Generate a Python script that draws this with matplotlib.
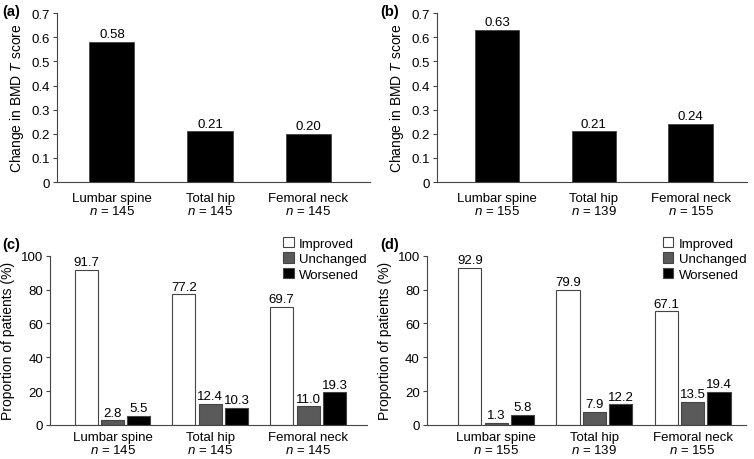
import matplotlib
matplotlib.use("Agg")
import matplotlib.pyplot as plt
import numpy as np
from matplotlib.patches import Patch

plt.rcParams['font.family'] = ['Liberation Sans', 'DejaVu Sans']
plt.rcParams['mathtext.fontset'] = 'custom'
plt.rcParams['mathtext.it'] = 'Liberation Sans:italic'
plt.rcParams['mathtext.rm'] = 'Liberation Sans'

#data
sites = ["Lumbar spine", "Total hip", "Femoral neck"]
n_a = [145, 145, 145]
n_b = [155, 139, 155]
change_a = [0.58, 0.21, 0.20]
change_b = [0.63, 0.21, 0.24]
statuses = ["Improved", "Unchanged", "Worsened"]
improved_c = [91.7, 77.2, 69.7]
unchanged_c = [2.8, 12.4, 11.0]
worsened_c = [5.5, 10.3, 19.3]
improved_d = [92.9, 79.9, 67.1]
unchanged_d = [1.3, 7.9, 13.5]
worsened_d = [5.8, 12.2, 19.4]
############

FS = 9.5
AXC = '#444444'
status_colors = ['white', '#5a5a5a', 'black']

fig = plt.figure(figsize=(7.54, 4.60), dpi=100)

def styleAx(ax, ns, xpad):
    ax.spines['top'].set_visible(False)
    ax.spines['right'].set_visible(False)
    ax.spines['left'].set_color(AXC)
    ax.spines['bottom'].set_color(AXC)
    ax.tick_params(axis='y', direction='out', length=3, color=AXC, labelsize=FS, pad=2)
    ax.tick_params(axis='x', length=0, labelsize=FS, pad=xpad)
    ax.set_xticks(range(len(sites)))
    ax.set_xticklabels(["%s\n$n$ = %d" % (s, n) for s, n in zip(sites, ns)], linespacing=1.0)

def changePanel(rect, vals, ns, xlim):
    ax = fig.add_axes(rect)
    x = np.arange(len(sites))
    ax.bar(x, vals, width=0.46, color='black', edgecolor=AXC, linewidth=0.6)
    for xi, v in zip(x, vals):
        ax.text(xi, v + 0.008, "%.2f" % v, ha='center', va='bottom', fontsize=FS)
    ax.set_ylim(0, 0.7)
    ax.set_yticks(np.arange(0, 0.71, 0.1))
    ax.set_yticklabels(["0"] + ["%.1f" % t for t in np.arange(0.1, 0.71, 0.1)])
    ax.set_xlim(*xlim)
    styleAx(ax, ns, 7)
    ax.set_ylabel("Change in BMD $T$ score", fontsize=FS + 0.5, labelpad=4)
    return ax

def statusPanel(rect, imp, unc, wor, ns, xlim):
    ax = fig.add_axes(rect)
    x = np.arange(len(sites))
    w = 0.235
    off = 0.27
    for k, vals in enumerate([imp, unc, wor]):
        ax.bar(x + (k - 1) * off, vals, width=w, color=status_colors[k], edgecolor=AXC, linewidth=0.8)
        for xi, v in zip(x, vals):
            ax.text(xi + (k - 1) * off, v + 1.0, "%.1f" % v, ha='center', va='bottom', fontsize=FS)
    ax.set_ylim(0, 100)
    ax.set_yticks(range(0, 101, 20))
    ax.set_xlim(*xlim)
    styleAx(ax, ns, 4)
    ax.set_ylabel("Proportion of patients (%)", fontsize=FS + 0.5, labelpad=4)
    handles = [Patch(facecolor=c, edgecolor=AXC, linewidth=0.8) for c in status_colors]
    ax.legend(handles, statuses, loc='upper right', bbox_to_anchor=(1.02, 1.15), frameon=False,
              fontsize=FS, handlelength=0.8, handleheight=0.8, handletextpad=0.4,
              labelspacing=0.22, borderpad=0)
    return ax

changePanel([0.0756, 0.602, 0.415, 0.367], change_a, n_a, (-0.56, 2.63))
changePanel([0.5796, 0.602, 0.411, 0.367], change_b, n_b, (-0.62, 2.58))
statusPanel([0.0663, 0.0740, 0.420, 0.368], improved_c, unchanged_c, worsened_c, n_a, (-0.64, 2.6))
statusPanel([0.566, 0.0740, 0.424, 0.368], improved_d, unchanged_d, worsened_d, n_b, (-0.71, 2.55))

for lab, (fx, fy) in zip(["(a)", "(b)", "(c)", "(d)"],
                         [(2, 12), (380, 12), (2, 245), (380, 245)]):
    fig.text(fx / 754, 1 - fy / 460, lab, fontsize=FS + 1, fontweight='bold', va='center', ha='left')

fig.savefig("out.png", dpi=100)
